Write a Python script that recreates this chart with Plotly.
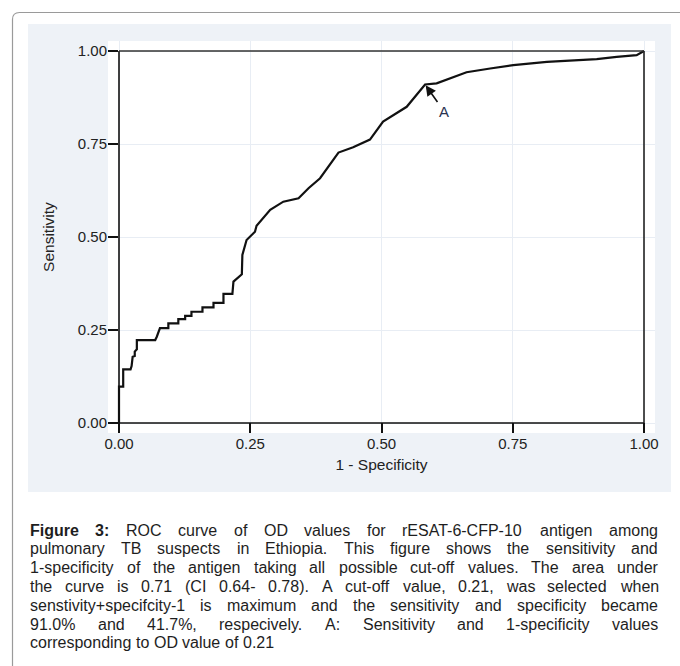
import plotly.graph_objects as go

# ---------------- data ----------------
fpr = [0.000, 0.000, 0.008, 0.008, 0.022, 0.024, 0.026, 0.030, 0.030, 0.034, 0.034,
       0.069, 0.072, 0.078, 0.094, 0.094, 0.113, 0.113, 0.126, 0.126, 0.138, 0.138,
       0.159, 0.159, 0.180, 0.180, 0.199, 0.199, 0.216, 0.218, 0.234, 0.235, 0.243,
       0.259, 0.262, 0.272, 0.288, 0.313, 0.342, 0.361, 0.383, 0.418, 0.446, 0.478,
       0.503, 0.548, 0.583, 0.605, 0.662, 0.707, 0.751, 0.815, 0.910, 0.948, 0.986, 1.000]
tpr = [0.000, 0.098, 0.098, 0.144, 0.144, 0.153, 0.178, 0.180, 0.192, 0.198, 0.223,
       0.223, 0.232, 0.255, 0.255, 0.268, 0.268, 0.279, 0.279, 0.288, 0.288, 0.299,
       0.299, 0.311, 0.311, 0.323, 0.323, 0.347, 0.347, 0.380, 0.400, 0.452, 0.492,
       0.514, 0.530, 0.546, 0.573, 0.595, 0.604, 0.631, 0.658, 0.727, 0.741, 0.762,
       0.810, 0.850, 0.910, 0.913, 0.943, 0.953, 0.962, 0.971, 0.978, 0.984, 0.989, 1.000]

tick_values = [0.0, 0.25, 0.5, 0.75, 1.0]
tick_labels = ["0.00", "0.25", "0.50", "0.75", "1.00"]

point_a_fpr = 0.583
point_a_tpr = 0.910
point_a_label = "A"

x_title = "1 - Specificity"
y_title = "Sensitivity"

caption_lines = [
    [("Figure", True), ("3:", True), ("ROC", False), ("curve", False), ("of", False), ("OD", False),
     ("values", False), ("for", False), ("rESAT-6-CFP-10", False), ("antigen", False), ("among", False)],
    "pulmonary TB suspects in Ethiopia. This figure shows the sensitivity and",
    "1-specificity of the antigen taking all possible cut-off values. The area under",
    "the curve is 0.71 (CI 0.64- 0.78). A cut-off value, 0.21, was selected when",
    "senstivity+specifcity-1 is maximum and the sensitivity and specificity became",
    "91.0% and 41.7%, respecively. A: Sensitivity and 1-specificity values",
    "corresponding to OD value of 0.21",
]

# ---------------- geometry ----------------
W, H = 680, 666
L, R, T, B = 108, 655, 41, 433          # plot area (pixels)
X0_PX, X1_PX, Y0_PX, Y1_PX = 119, 644, 423, 51   # data 0 and 1 positions

ux = (X1_PX - X0_PX)
uy = (Y0_PX - Y1_PX)
x_range = [(L - X0_PX) / ux, (R - X0_PX) / ux]
y_range = [(Y0_PX - B) / uy, (Y0_PX - T) / uy]


def pxx(x):
    return (x - L) / (R - L)


def pxy(y):
    return (B - y) / (B - T)


# Arial / Liberation Sans advance widths (1/1000 em)
REG = {' ': 278, 'a': 556, 'b': 556, 'c': 500, 'd': 556, 'e': 556, 'f': 278, 'g': 556, 'h': 556,
       'i': 222, 'j': 222, 'k': 500, 'l': 222, 'm': 833, 'n': 556, 'o': 556, 'p': 556, 'q': 556,
       'r': 333, 's': 500, 't': 278, 'u': 556, 'v': 500, 'w': 722, 'x': 500, 'y': 500, 'z': 500,
       'A': 667, 'B': 667, 'C': 722, 'D': 722, 'E': 667, 'F': 611, 'G': 778, 'H': 722, 'I': 278,
       'J': 500, 'K': 667, 'L': 556, 'M': 833, 'N': 722, 'O': 778, 'P': 667, 'Q': 778, 'R': 722,
       'S': 667, 'T': 611, 'U': 722, 'V': 667, 'W': 944, 'X': 667, 'Y': 667, 'Z': 611,
       '.': 278, ',': 278, ':': 278, '-': 333, '(': 333, ')': 333, '%': 889, '+': 584}
BOLD = {'F': 611, 'i': 278, 'g': 611, 'u': 611, 'r': 389, 'e': 556, '3': 556, ':': 333}


def text_em(word, bold):
    tab = BOLD if bold else REG
    total = 0
    for ch in word:
        if ch.isdigit():
            total += 556
        else:
            total += tab.get(ch, REG.get(ch, 556))
    return total / 1000.0


fig = go.Figure()
fig.add_trace(go.Scatter(x=fpr, y=tpr, mode="lines",
                         line=dict(color="#111111", width=2.2),
                         hoverinfo="skip", showlegend=False))

FONT = "Arial, Liberation Sans, sans-serif"

axis_common = dict(
    tickmode="array", tickvals=tick_values, ticktext=tick_labels,
    ticks="inside", ticklen=10, tickwidth=1.5, tickcolor="#111111",
    showgrid=True, gridcolor="#e8edf4", gridwidth=1,
    zeroline=False, showline=False,
    tickfont=dict(family=FONT, size=15, color="#222222"),
    fixedrange=True,
)

fig.update_layout(
    width=W, height=H, autosize=False,
    margin=dict(l=L, r=W - R, t=T, b=H - B, pad=0),
    paper_bgcolor="white", plot_bgcolor="white",
    xaxis=dict(range=x_range, **axis_common,
               title=dict(text=x_title, standoff=8,
                          font=dict(family=FONT, size=15.5, color="#222222"))),
    yaxis=dict(range=y_range, **axis_common,
               title=dict(text=y_title, standoff=19,
                          font=dict(family=FONT, size=15.5, color="#222222"))),
    showlegend=False,
)

shapes = []
# light panel behind the graph
shapes.append(dict(type="rect", xref="paper", yref="paper", layer="below",
                   x0=pxx(28), x1=pxx(671), y0=pxy(492), y1=pxy(24),
                   fillcolor="#eef2f7", line=dict(width=0)))
# white plot region
shapes.append(dict(type="rect", xref="paper", yref="paper", layer="below",
                   x0=0, x1=1, y0=0, y1=1, fillcolor="white", line=dict(width=0)))
# outer rounded border (cropped at right / bottom)
bx, by, rr = 12.5, 12.5, 7
path = (f"M {pxx(bx)} {pxy(H + 10)} L {pxx(bx)} {pxy(by + rr)} "
        f"Q {pxx(bx)} {pxy(by)} {pxx(bx + rr)} {pxy(by)} L {pxx(W + 10)} {pxy(by)}")
shapes.append(dict(type="path", xref="paper", yref="paper", path=path,
                   line=dict(color="#9a9a9a", width=1.2)))
# frame lines at 0 and 1
for (x0, y0, x1, y1, c) in [(0, 0, 0, 1, "#111111"), (0, 0, 1, 0, "#111111"),
                            (0, 1, 1, 1, "#333333"), (1, 0, 1, 1, "#222222")]:
    shapes.append(dict(type="line", xref="x", yref="y", x0=x0, y0=y0, x1=x1, y1=y1,
                       line=dict(color=c, width=1.6), layer="above"))
fig.update_layout(shapes=shapes)

annotations = []
# arrow to point A
annotations.append(dict(x=point_a_fpr, y=point_a_tpr, xref="x", yref="y",
                        ax=0.619, ay=0.838, axref="x", ayref="y",
                        text=point_a_label, showarrow=True, arrowhead=2, arrowsize=1.3,
                        arrowwidth=1.6, arrowcolor="#111111", standoff=1,
                        font=dict(family=FONT, size=15, color="#2a3350")))

# caption, justified word by word
CAP_X0, CAP_X1 = 29, 657
CAP_Y0, CAP_DY = 530, 18.8
parsed = []
for line in caption_lines:
    if isinstance(line, str):
        parsed.append([(w, False) for w in line.split(" ")])
    else:
        parsed.append(line)
# choose a size so that every justified line fits with at least ~1.15 normal spaces
fit_sizes = []
for words in parsed[:-1]:
    em = sum(text_em(w, b) for w, b in words) + 1.15 * 0.278 * (len(words) - 1)
    fit_sizes.append((CAP_X1 - CAP_X0) / em)
CAP_SIZE = min(16.0, min(fit_sizes))

n_lines = len(parsed)
for i, words in enumerate(parsed):
    widths = [text_em(w, b) * CAP_SIZE for w, b in words]
    if i < n_lines - 1 and len(words) > 1:
        gap = (CAP_X1 - CAP_X0 - sum(widths)) / (len(words) - 1)
    else:
        gap = 0.278 * CAP_SIZE
    xpos = CAP_X0
    ypos = CAP_Y0 + i * CAP_DY
    for (w, b), wd in zip(words, widths):
        annotations.append(dict(xref="paper", yref="paper", x=pxx(xpos), y=pxy(ypos),
                                xanchor="left", yanchor="middle", showarrow=False,
                                text=f"<b>{w}</b>" if b else w, borderpad=0,
                                font=dict(family=FONT, size=CAP_SIZE, color="#1e1e1e")))
        xpos += wd + gap
fig.update_layout(annotations=annotations)

fig.write_html("out.html", config={"displayModeBar": False},
               post_script="document.body.style.margin='0';")
